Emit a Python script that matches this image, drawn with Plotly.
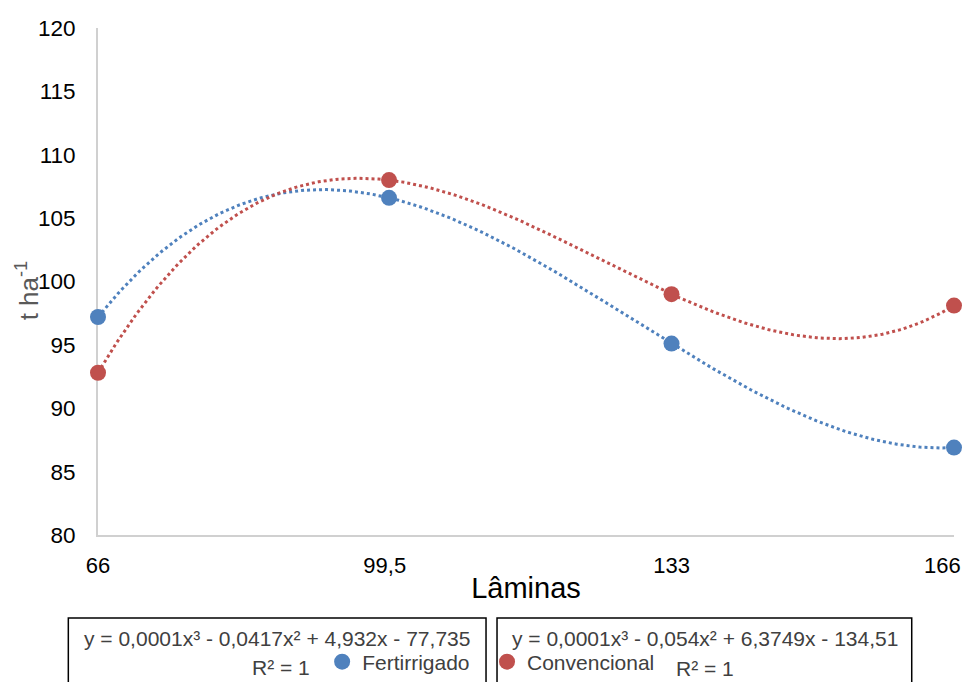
import numpy as np
import plotly.graph_objects as go

# ---- data ----
laminas = [66, 100, 133, 166]
fertirrigado = [97.2, 106.6, 95.1, 86.9]
convencional = [92.8, 108.0, 99.0, 98.1]
x_tick_vals = [66, 99.5, 133]
x_tick_text = ["66", "99,5", "133"]
x_last_tick = 166
x_last_text = "166"
y_tick_vals = [80, 85, 90, 95, 100, 105, 110, 115, 120]
eq_fert = "y = 0,0001x³ - 0,0417x² + 4,932x - 77,735"
eq_conv = "y = 0,0001x³ - 0,054x² + 6,3749x - 134,51"
r2_text = "R² = 1"
y_title = "t ha<sup>-1</sup>"
x_title = "Lâminas"

BLUE = "#4f81bd"
RED = "#c0504d"

OFF = 8  # page body margin
W, H = 972, 682
L, R, T, B = 97.7, 17.7, 28, 147
pw, ph = W - L - R, H - T - B

def px(xp):
    return (xp - L) / pw

def py(yp):
    return (H - B - yp) / ph

fig = go.Figure()

xs = np.linspace(min(laminas), max(laminas), 300)
for ys, col in ((fertirrigado, BLUE), (convencional, RED)):
    c = np.polyfit(laminas, ys, 3)
    fig.add_trace(go.Scatter(x=xs, y=np.polyval(c, xs), mode="lines",
                             line=dict(color=col, width=3, dash="dot"),
                             showlegend=False, hoverinfo="skip", cliponaxis=False))

fig.add_trace(go.Scatter(x=laminas, y=fertirrigado, mode="markers", name="Fertirrigado",
                         marker=dict(color=BLUE, size=16), legend="legend", cliponaxis=False))
fig.add_trace(go.Scatter(x=laminas, y=convencional, mode="markers", name="Convencional",
                         marker=dict(color=RED, size=16), legend="legend2", cliponaxis=False))

small_font = dict(family="Liberation Sans, Arial", size=21, color="#404040")
tick_font = dict(family="Liberation Sans, Arial", size=22, color="#000000")

fig.update_layout(
    width=W - OFF, height=H - OFF,
    margin=dict(l=L - OFF, r=R, t=T - OFF, b=B, autoexpand=False),
    paper_bgcolor="white", plot_bgcolor="white",
    font=dict(family="Liberation Sans, Arial", color="#000000"),
    xaxis=dict(range=[66, 166], tickvals=x_tick_vals, ticktext=x_tick_text,
               showgrid=False, zeroline=False, showline=True, linecolor="#d0d0d0", linewidth=2,
               ticks="outside", ticklen=10, tickcolor="rgba(0,0,0,0)",
               tickfont=tick_font, layer="below traces",
               title=dict(text=x_title, font=dict(size=29, color="#000000"), standoff=0)),
    yaxis=dict(range=[80, 120], tickvals=y_tick_vals,
               showgrid=False, zeroline=False, showline=True, linecolor="#d0d0d0", linewidth=2,
               ticks="outside", ticklen=16, tickcolor="rgba(0,0,0,0)", layer="below traces",
               tickfont=dict(family="Liberation Sans, Arial", size=22.5, color="#000000")),
    legend=dict(x=px(322), y=py(662), xanchor="left", yanchor="middle",
                font=small_font, bgcolor="rgba(0,0,0,0)", itemwidth=30),
    legend2=dict(x=px(487), y=py(662), xanchor="left", yanchor="middle",
                 font=small_font, bgcolor="rgba(0,0,0,0)", itemwidth=30),
)

# last x tick label, pulled inward so it fits (as the original does)
fig.add_annotation(text=x_last_text, xref="x", yref="paper", x=x_last_tick, y=py(565),
                   xanchor="right", yanchor="middle", xshift=9, showarrow=False,
                   font=tick_font)

# y-axis title
fig.add_annotation(text=y_title, xref="paper", yref="paper", x=px(27), y=py(290),
                   xanchor="center", yanchor="middle", textangle=-90, showarrow=False,
                   font=dict(family="Liberation Sans, Arial", size=26, color="#595959"))

# boxes around trendline labels
for x0, x1 in ((68, 486), (497, 912)):
    fig.add_shape(type="rect", xref="paper", yref="paper",
                  x0=px(x0), x1=px(x1), y0=py(618), y1=py(695),
                  line=dict(color="#000000", width=1.5), fillcolor="rgba(0,0,0,0)")

for txt, cx, cy in ((eq_fert, 277, 638), (r2_text, 281, 667),
                    (eq_conv, 705, 638), (r2_text, 705, 668)):
    fig.add_annotation(text=txt, xref="paper", yref="paper", x=px(cx), y=py(cy),
                       xanchor="center", yanchor="middle", showarrow=False, font=small_font)

fig.write_html("out.html")
